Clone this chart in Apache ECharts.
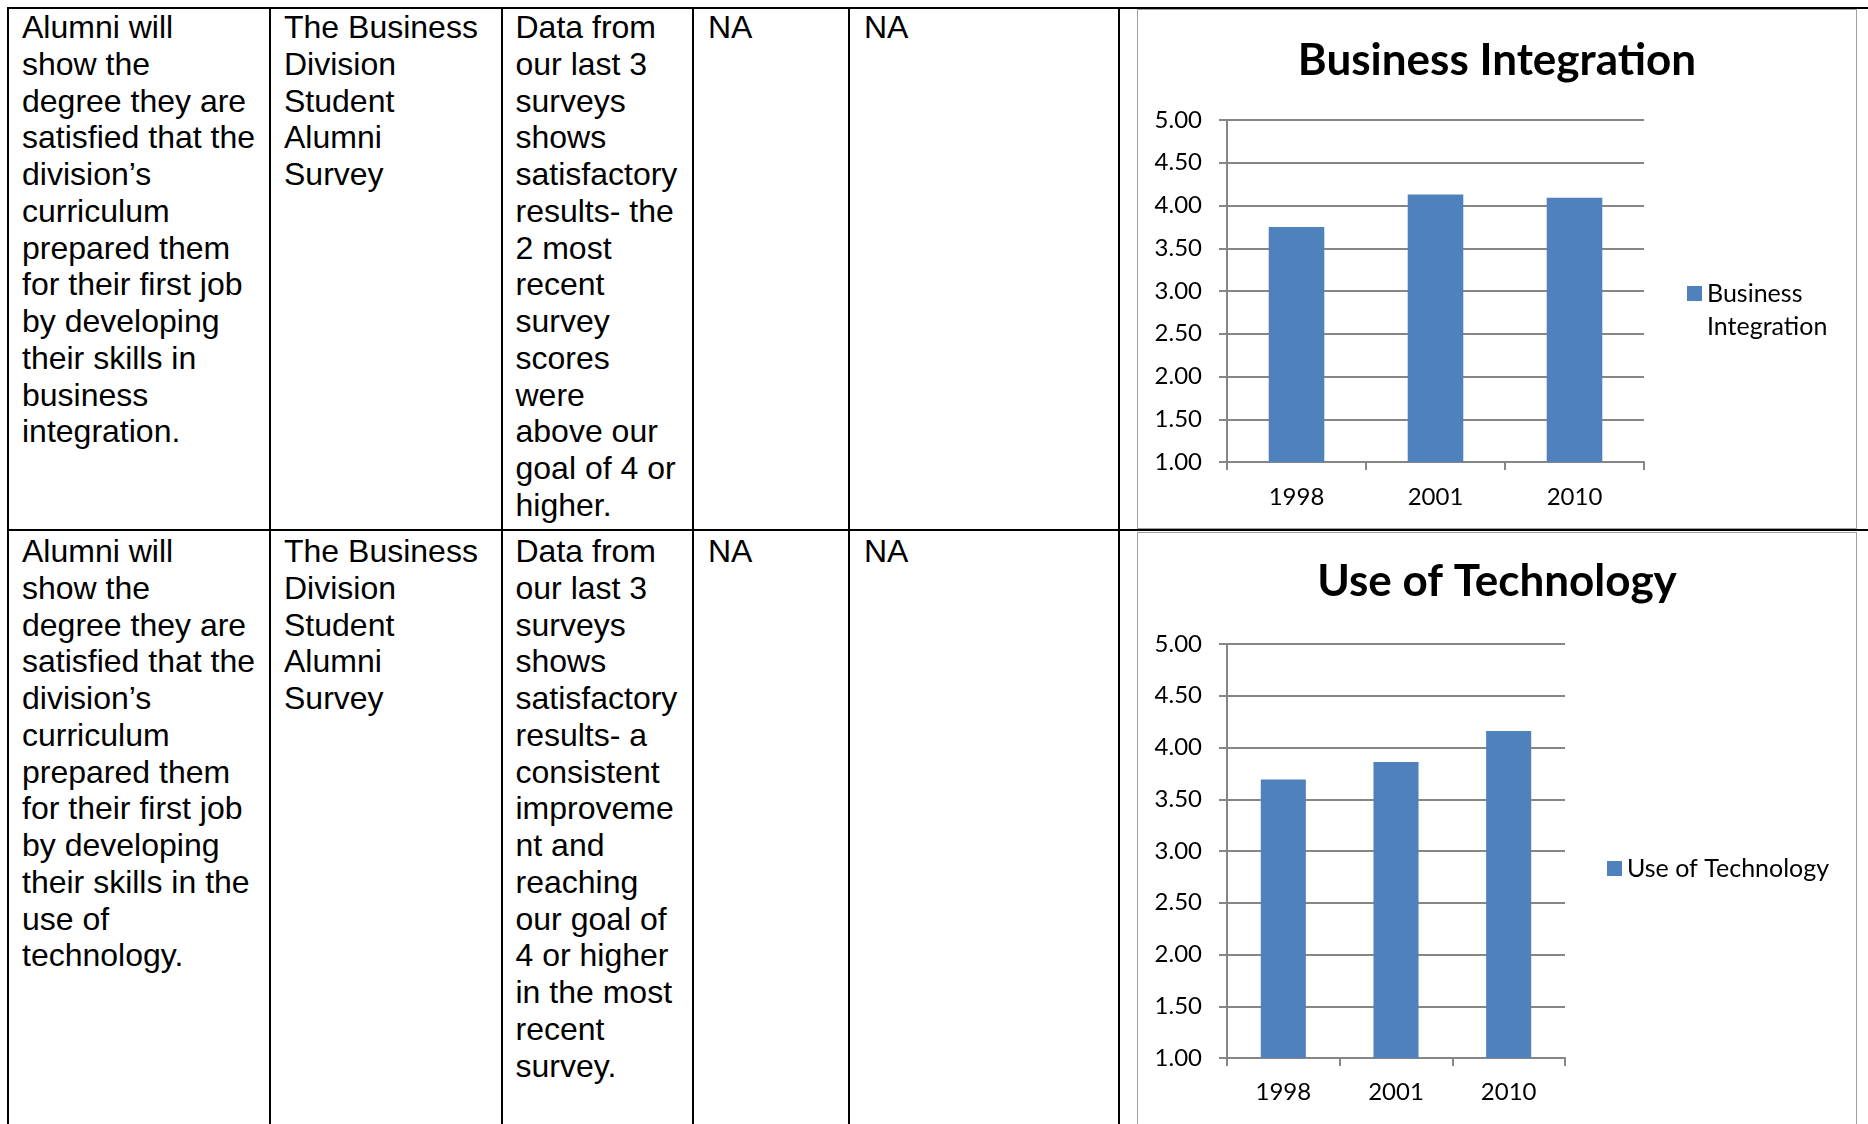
<!DOCTYPE html>
<html>
<head>
<meta charset="utf-8">
<title>Alumni Survey Results</title>
<script src="https://cdn.jsdelivr.net/npm/echarts/dist/echarts.min.js"></script>
<style>
  html, body { margin: 0; padding: 0; width: 1868px; height: 1124px; overflow: hidden; background: #fff; }
  .hl { position: absolute; height: 2px; background: #000; }
  .vl { position: absolute; width: 2px; background: #000; }
  .cell { position: absolute; font-family: "Liberation Sans", Arial, sans-serif; font-size: 32px;
          line-height: 36.75px; color: #000; white-space: nowrap; }
  .frame { position: absolute; border: 1px solid #a0a0a0; box-sizing: border-box; background: #fff; }
</style>
</head>
<body>
<div id="table"></div>
<div id="chart1" class="frame" style="left:1137px; top:9px; width:720px; height:520px;"></div>
<div id="chart2" class="frame" style="left:1137px; top:532px; width:720px; height:610px;"></div>
<script>
// Survey years and average scores (1–5 scale)
const years = ['1998', '2001', '2010'];
const businessIntegration = [3.75, 4.13, 4.09];
const useOfTechnology = [3.69, 3.86, 4.16];

// Chart titles and legend labels (a leading blank line keeps the first
// line of a wrapped label level with the legend swatch)
const chartTitles = ['Business Integration', 'Use of Technology'];
const legendLabels = ['\nBusiness\nIntegration', 'Use of Technology'];

// Table cell text, one array of lines per cell
const row1Cells = [
  ['Alumni will', 'show the', 'degree they are', 'satisfied that the', 'division\u2019s', 'curriculum',
   'prepared them', 'for their first job', 'by developing', 'their skills in', 'business', 'integration.'],
  ['The Business', 'Division', 'Student', 'Alumni', 'Survey'],
  ['Data from', 'our last 3', 'surveys', 'shows', 'satisfactory', 'results- the', '2 most', 'recent',
   'survey', 'scores', 'were', 'above our', 'goal of 4 or', 'higher.'],
  ['NA'],
  ['NA']
];
const row2Cells = [
  ['Alumni will', 'show the', 'degree they are', 'satisfied that the', 'division\u2019s', 'curriculum',
   'prepared them', 'for their first job', 'by developing', 'their skills in the', 'use of', 'technology.'],
  ['The Business', 'Division', 'Student', 'Alumni', 'Survey'],
  ['Data from', 'our last 3', 'surveys', 'shows', 'satisfactory', 'results- a', 'consistent', 'improveme',
   'nt and', 'reaching', 'our goal of', '4 or higher', 'in the most', 'recent', 'survey.'],
  ['NA'],
  ['NA']
];

// ---- table grid and text ----
const table = document.getElementById('table');
function addEl(cls, style, html) {
  const d = document.createElement('div');
  d.className = cls;
  Object.assign(d.style, style);
  if (html !== undefined) d.innerHTML = html;
  table.appendChild(d);
}
const colLines = [7, 269, 501, 692, 848, 1118];
const textLeft = [22, 284, 515.5, 708, 864];
addEl('hl', { left: '7px', top: '7px', width: '1861px' });
addEl('hl', { left: '7px', top: '529px', width: '1861px' });
colLines.forEach(x => addEl('vl', { left: x + 'px', top: '7px', height: '1117px' }));
function escapeHtml(s) { return s.replace(/&/g, '&amp;').replace(/</g, '&lt;'); }
[[row1Cells, 9], [row2Cells, 533]].forEach(([cells, top]) => {
  cells.forEach((lines, i) => {
    addEl('cell', { left: textLeft[i] + 'px', top: top + 'px' }, lines.map(escapeHtml).join('<br>'));
  });
});

// ---- bar charts ----
const FONT = 'Lato';
const AXIS_GREY = '#868686';
const BAR_BLUE = '#4F81BD';

function buildChart(domId, title, seriesName, legendText, values, layout) {
  const chart = echarts.init(document.getElementById(domId), null, { renderer: 'canvas' });
  chart.setOption({
    animation: false,
    title: {
      text: title,
      left: 'center',
      top: layout.titleTop,
      padding: 0,
      textStyle: { fontFamily: FONT, fontWeight: 'bold', fontSize: 44, color: '#000' }
    },
    legend: {
      data: [seriesName],
      left: layout.legendLeft,
      top: layout.legendTop,
      padding: 0,
      icon: 'rect',
      itemWidth: 15,
      itemHeight: 15,
      formatter: () => legendText,
      textStyle: { fontFamily: FONT, fontSize: 25, color: '#000', lineHeight: 33 }
    },
    grid: Object.assign({ containLabel: false, outerBoundsMode: 'none' }, layout.grid),
    xAxis: {
      type: 'category',
      data: years,
      axisLine: { show: true, lineStyle: { color: AXIS_GREY, width: 2 } },
      axisTick: { show: true, length: 8, lineStyle: { color: AXIS_GREY, width: 2 } },
      axisLabel: { fontFamily: FONT, fontSize: 24, color: '#000', margin: layout.xLabelMargin }
    },
    yAxis: {
      type: 'value',
      min: 1,
      max: 5,
      interval: 0.5,
      axisLine: { show: true, lineStyle: { color: AXIS_GREY, width: 2 } },
      axisTick: { show: true, length: 8, lineStyle: { color: AXIS_GREY, width: 2 } },
      splitLine: { show: true, lineStyle: { color: AXIS_GREY, width: 2 } },
      axisLabel: { fontFamily: FONT, fontSize: 24, color: '#000', margin: 25,
                   formatter: v => v.toFixed(2) }
    },
    series: [{
      name: seriesName,
      type: 'bar',
      data: values,
      barCategoryGap: '60%',
      itemStyle: { color: BAR_BLUE }
    }]
  });
  return chart;
}

buildChart('chart1', chartTitles[0], chartTitles[0], legendLabels[0], businessIntegration, {
  titleTop: 29,
  legendLeft: 549,
  legendTop: 234,
  xLabelMargin: 23,
  grid: { left: 89, top: 110, width: 417, height: 342 }
});

buildChart('chart2', chartTitles[1], chartTitles[1], legendLabels[1], useOfTechnology, {
  titleTop: 27,
  legendLeft: 469,
  legendTop: 319,
  xLabelMargin: 22,
  grid: { left: 89, top: 111, width: 338, height: 414 }
});
</script>
</body>
</html>
